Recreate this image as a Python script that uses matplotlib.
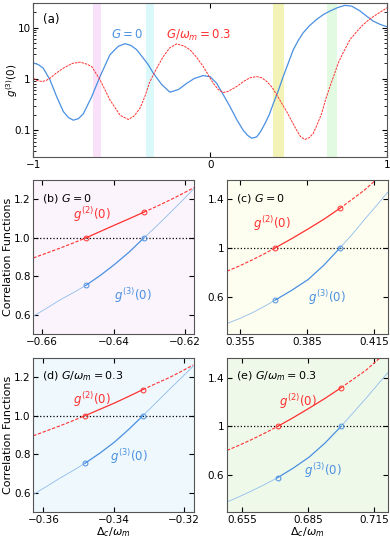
import matplotlib
matplotlib.use('Agg')
import matplotlib.pyplot as plt
import numpy as np

BLUE = '#4a90e2'
LBLUE = '#8fbcec'
RED = '#ff3030'

# panel (a): g3 vs detuning
xa_blue = [-1.0, -0.972, -0.944, -0.906, -0.868, -0.83, -0.80, -0.774, -0.745, -0.717,
           -0.67, -0.623, -0.567, -0.52, -0.482, -0.45, -0.416, -0.385, -0.35, -0.322,
           -0.275, -0.228, -0.18, -0.133, -0.09, -0.04, 0.0, 0.036, 0.075, 0.111,
           0.15, 0.186, 0.21, 0.234, 0.262, 0.285, 0.309, 0.333, 0.356, 0.385,
           0.412, 0.44, 0.469, 0.497, 0.525, 0.56, 0.601, 0.64, 0.676, 0.72,
           0.761, 0.80, 0.846, 0.88, 0.921, 0.96, 1.0]
ya_blue = [2.04, 1.9, 1.62, 0.96, 0.45, 0.23, 0.175, 0.157, 0.168, 0.21,
           0.45, 1.11, 2.95, 4.3, 4.85, 4.5, 3.7, 2.7, 1.88, 1.29,
           0.78, 0.55, 0.62, 0.82, 1.02, 1.16, 1.1, 0.82, 0.48, 0.29,
           0.16, 0.10, 0.08, 0.07, 0.074, 0.095, 0.135, 0.2, 0.33, 0.6,
           1.11, 2.0, 3.7, 5.6, 7.9, 10.8, 14.4, 18.0, 20.9, 24.5,
           27.0, 26.0, 21.0, 17.0, 13.3, 11.5, 10.3]
xa_red = [-1.0, -0.978, -0.953, -0.93, -0.906, -0.87, -0.83, -0.78, -0.736, -0.70,
          -0.67, -0.623, -0.567, -0.51, -0.463, -0.43, -0.397, -0.37, -0.345, -0.322,
          -0.295, -0.265, -0.23, -0.19, -0.15, -0.115, -0.08, -0.04, 0.017, 0.045,
          0.073, 0.10, 0.149, 0.19, 0.224, 0.262, 0.29, 0.319, 0.35, 0.375,
          0.432, 0.488, 0.51, 0.535, 0.56, 0.582, 0.60, 0.629, 0.65, 0.676,
          0.70, 0.723, 0.75, 0.789, 0.83, 0.864, 0.90, 0.94, 0.97, 1.0]
ya_red = [1.03, 0.93, 0.89, 0.92, 1.03, 1.3, 1.62, 2.0, 2.12, 1.95,
          1.74, 0.96, 0.39, 0.196, 0.162, 0.19, 0.27, 0.45, 0.82, 1.2,
          1.8, 2.74, 4.0, 4.8, 4.4, 3.7, 2.7, 1.74, 0.82, 0.62,
          0.54, 0.57, 0.71, 0.9, 1.05, 1.11, 1.05, 0.89, 0.68, 0.49,
          0.23, 0.10, 0.075, 0.066, 0.072, 0.087, 0.12, 0.21, 0.38, 0.71,
          1.2, 2.04, 3.2, 5.8, 8.5, 11.4, 14.5, 18.0, 21.0, 24.3]

# zoomed panels (b)-(e); circles sit at index 4 and 8
xb = [-0.6625, -0.6588, -0.655, -0.6514, -0.6478, -0.6438, -0.6398, -0.6356, -0.6315,
      -0.6278, -0.6242, -0.6208, -0.6175]
g2b = [0.896, 0.921, 0.947, 0.973, 1.0, 1.033, 1.066, 1.1, 1.134, 1.165, 1.197, 1.229, 1.261]
g3b = [0.593, 0.634, 0.678, 0.714, 0.753, 0.804, 0.861, 0.927, 1.0, 1.064, 1.13, 1.193, 1.256]

xc = [0.349, 0.3545, 0.360, 0.3653, 0.3706, 0.378, 0.3854, 0.3925, 0.3997, 0.4052,
      0.4107, 0.4159, 0.4211]
g2c = [0.811, 0.853, 0.90, 0.948, 1.0, 1.075, 1.154, 1.233, 1.322, 1.395, 1.47, 1.554, 1.62]
g3c = [0.386, 0.425, 0.47, 0.52, 0.576, 0.655, 0.743, 0.86, 1.0, 1.11, 1.23, 1.34, 1.451]

xd = [-0.3629, -0.3592, -0.3554, -0.3518, -0.3482, -0.344, -0.3398, -0.3358, -0.3317,
      -0.328, -0.3242, -0.3208, -0.3174]
g2d = [0.896, 0.921, 0.947, 0.973, 1.0, 1.033, 1.066, 1.1, 1.136, 1.167, 1.198, 1.23, 1.263]
g3d = [0.591, 0.632, 0.675, 0.713, 0.753, 0.805, 0.863, 0.928, 1.0, 1.067, 1.136, 1.196, 1.257]

xe = [0.6481, 0.6535, 0.659, 0.665, 0.6711, 0.6783, 0.6855, 0.6927, 0.6999, 0.7056,
      0.7113, 0.7167, 0.722]
g2e = [0.804, 0.845, 0.89, 0.943, 1.0, 1.073, 1.15, 1.23, 1.316, 1.388, 1.46, 1.547, 1.61]
g3e = [0.382, 0.424, 0.47, 0.523, 0.581, 0.66, 0.75, 0.865, 1.0, 1.115, 1.231, 1.345, 1.457]

plt.rcParams['font.size'] = 7
plt.rcParams['xtick.direction'] = 'in'
plt.rcParams['ytick.direction'] = 'in'
plt.rcParams['xtick.top'] = True
plt.rcParams['ytick.right'] = True
plt.rcParams['axes.edgecolor'] = '#555555'
plt.rcParams['axes.linewidth'] = 0.8

fig = plt.figure(figsize=(3.9, 5.38), dpi=100)

# ---- panel (a)
ax = fig.add_axes([0.0854, 0.708, 0.9076, 0.2864])
bands = [((-0.6625, -0.6175), '#f7d6f7'), ((-0.3629, -0.3174), '#cdf6fa'),
         ((0.356, 0.416), '#eeee99'), ((0.657, 0.717), '#d6f8d6')]
for (lo, hi), c in bands:
    ax.axvspan(lo, hi, color=c, alpha=0.7, lw=0)
ax.plot(xa_blue, ya_blue, color=BLUE, lw=0.9)
ax.plot(xa_red, ya_red, color=RED, lw=0.7, ls=(0, (2.5, 1)))
ax.set_yscale('log')
ax.set_xlim(-1, 1)
ax.set_ylim(0.03, 30)
ax.set_xticks([-1, 0, 1])
ax.set_xticklabels(['\u22121', '0', '1'])
ax.set_yticks([0.1, 1, 10])
ax.set_yticklabels(['0.1', '1', '10'])
ax.set_ylabel('$g^{(3)}(0)$', fontsize=7.5)
ax.yaxis.set_label_coords(-0.038, 0.5)
ax.text(0.027, 0.87, '(a)', transform=ax.transAxes, fontsize=8.5)
ax.text(0.22, 0.77, '$G=0$', transform=ax.transAxes, color=BLUE, fontsize=8.5)
ax.text(0.375, 0.77, '$G/\\omega_m=0.3$', transform=ax.transAxes, color=RED, fontsize=8.5)
ax.tick_params(labelsize=7.5, pad=2)


def zoom_panel(rect, x, g2, g3, xlim, ylim, xticks, xlabels, yticks, ylabels,
               face, title, pos2, pos3, ylab=False, xlab=False):
    ax = fig.add_axes(rect)
    ax.set_facecolor(face)
    x = np.array(x)
    g2 = np.array(g2)
    g3 = np.array(g3)
    x1, x2 = x[4], x[8]
    ax.axhline(1.0, color='black', lw=0.9, ls=':')
    left = x <= x1
    mid = (x >= x1) & (x <= x2)
    right = x >= x2
    for m in (left, right):
        ax.plot(x[m], g2[m], color=RED, lw=0.8, ls=(0, (3, 1.5)))
        ax.plot(x[m], g3[m], color=LBLUE, lw=0.6)
    ax.plot(x[mid], g2[mid], color=RED, lw=0.9)
    ax.plot(x[mid], g3[mid], color=BLUE, lw=0.9)
    ax.plot([x1, x2], [g2[4], g2[8]], 'o', ms=3.5, mfc='none', mec=RED, mew=0.7)
    ax.plot([x1, x2], [g3[4], g3[8]], 'o', ms=3.5, mfc='none', mec=BLUE, mew=0.7)
    ax.set_xlim(*xlim)
    ax.set_ylim(*ylim)
    ax.set_xticks(xticks)
    ax.set_xticklabels(xlabels)
    ax.set_yticks(yticks)
    ax.set_yticklabels(ylabels)
    ax.tick_params(labelsize=7.5, pad=2)
    ax.text(0.055, 0.86, title, transform=ax.transAxes, fontsize=8)
    ax.text(pos2[0], pos2[1], '$g^{(2)}(0)$', transform=ax.transAxes, color=RED, fontsize=8.5)
    ax.text(pos3[0], pos3[1], '$g^{(3)}(0)$', transform=ax.transAxes, color=BLUE, fontsize=8.5)
    if ylab:
        ax.set_ylabel('Correlation Functions', fontsize=8, labelpad=1)
    if xlab:
        ax.set_xlabel('$\\Delta_c/\\omega_m$', fontsize=8, labelpad=0)
    return ax


zoom_panel([0.0854, 0.379, 0.4116, 0.286], xb, g2b, g3b, (-0.6625, -0.6175), (0.5, 1.3),
           [-0.66, -0.64, -0.62], ['\u22120.66', '\u22120.64', '\u22120.62'],
           [0.6, 0.8, 1.0, 1.2], ['0.6', '0.8', '1.0', '1.2'],
           '#fcf4fc', '(b) $G=0$', (0.25, 0.75), (0.5, 0.22), ylab=True)
zoom_panel([0.582, 0.379, 0.413, 0.286], xc, g2c, g3c, (0.349, 0.4213), (0.3, 1.55),
           [0.355, 0.385, 0.415], ['0.355', '0.385', '0.415'],
           [0.6, 1.0, 1.4], ['0.6', '1', '1.4'],
           '#fefef0', '(c) $G=0$', (0.16, 0.69), (0.50, 0.21))
zoom_panel([0.0854, 0.0483, 0.4116, 0.2863], xd, g2d, g3d, (-0.3629, -0.3172), (0.5, 1.3),
           [-0.36, -0.34, -0.32], ['\u22120.36', '\u22120.34', '\u22120.32'],
           [0.6, 0.8, 1.0, 1.2], ['0.6', '0.8', '1.0', '1.2'],
           '#eef8fd', '(d) $G/\\omega_m=0.3$', (0.25, 0.70), (0.48, 0.33),
           ylab=True, xlab=True)
zoom_panel([0.582, 0.0483, 0.413, 0.2863], xe, g2e, g3e, (0.6481, 0.7213), (0.3, 1.56),
           [0.655, 0.685, 0.715], ['0.655', '0.685', '0.715'],
           [0.6, 1.0, 1.4], ['0.6', '1', '1.4'],
           '#eff9ea', '(e) $G/\\omega_m=0.3$', (0.32, 0.69), (0.48, 0.24), xlab=True)

fig.savefig('out.png', dpi=100)
